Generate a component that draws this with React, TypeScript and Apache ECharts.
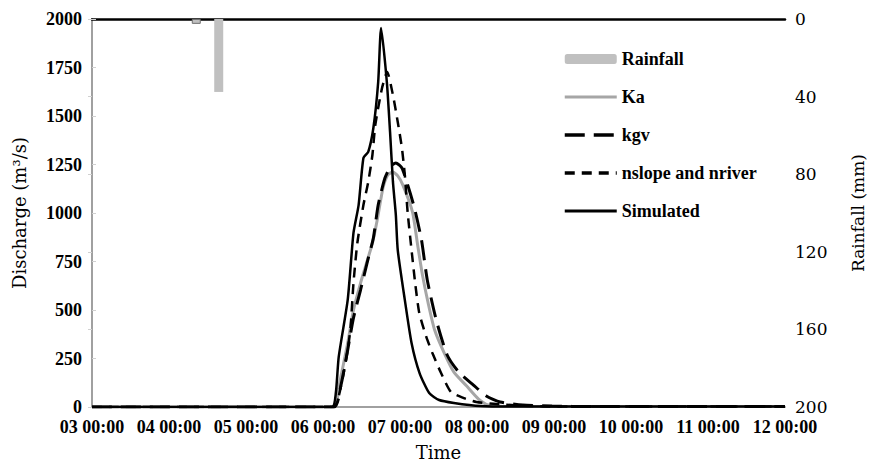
import React, { useEffect, useRef } from "react";
import * as echarts from "echarts";

// Tick labels of the time axis (value axis in hours from "03 00:00")
const dayLabels = ["03 00:00", "04 00:00", "05 00:00", "06 00:00", "07 00:00", "08 00:00", "09 00:00", "10 00:00", "11 00:00", "12 00:00"];

// Rainfall (mm), hours from 03 00:00
const rainHours = [32.5, 39.5];
const rainMm = [2.5, 37.6];

// Simulated discharge
const simHours = [0, 74.8, 76.0, 76.9, 79.7, 81.5, 83.1, 84.6, 86.1, 87.7, 89.2, 90.1, 91.9, 92.9, 93.8, 94.7, 95.3, 97.5, 99.6, 102.1, 105.1, 108.2, 112.8, 121.1, 131.2, 216];
const simQ = [0, 0, 72, 258, 552, 897, 1041, 1284, 1315, 1438, 1675, 1954, 1675, 1418, 1160, 990, 809, 552, 330, 175, 72, 36, 21, 5, 2, 2];

// Ka
const kaHours = [0, 75.4, 76.9, 79.7, 81.5, 83.7, 85.2, 87.4, 88.9, 90.7, 92.2, 93.8, 95.3, 96.9, 99.9, 101.5, 103.0, 104.9, 106.8, 109.8, 112.8, 116.8, 120.5, 123.5, 131, 216];
const kaQ = [0, 0, 103, 330, 500, 639, 722, 845, 964, 1129, 1196, 1211, 1191, 1144, 1005, 835, 680, 526, 397, 278, 180, 108, 41, 10, 2, 2];

// kgv
const kgvHours = [0, 75.4, 77.6, 79.7, 81.5, 83.7, 85.8, 87.7, 89.2, 91.3, 93.1, 94.7, 96.6, 98.4, 100.5, 102.7, 104.5, 107.3, 110.7, 114.3, 118.9, 122.9, 127.2, 134.3, 143.4, 155.7, 216];
const kgvQ = [0, 0, 113, 294, 459, 603, 747, 871, 1041, 1180, 1242, 1258, 1232, 1144, 1026, 861, 655, 448, 268, 180, 113, 57, 26, 10, 5, 2, 2];

// nslope and nriver
const nsHours = [0, 75.4, 76.6, 78.2, 79.7, 80.6, 81.5, 82.7, 84.6, 86.1, 87.4, 88.3, 90.4, 92.0, 93.8, 95.3, 96.6, 97.5, 98.4, 99.6, 100.8, 102.0, 104.2, 106.1, 108.8, 111.9, 115.9, 119.8, 126.0, 137.3, 149.6, 216];
const nsQ = [0, 0, 36, 155, 294, 412, 639, 845, 1041, 1160, 1299, 1454, 1644, 1727, 1608, 1469, 1335, 1196, 1000, 809, 629, 485, 361, 278, 175, 77, 46, 26, 15, 5, 2, 2];

const pairs = (xs: number[], ys: number[]) => xs.map((x, i) => [x, ys[i]]);

export default function App() {
  const ref = useRef<HTMLDivElement>(null);
  useEffect(() => {
    if (!ref.current) return;
    const chart = echarts.init(ref.current, null, { renderer: "svg" });
    const serif = "Liberation Serif";
    const century = "DejaVu Serif";
    const hideSym = { opacity: 0 };
    chart.setOption({
      animation: false,
      textStyle: { fontFamily: serif },
      grid: { left: 92, right: 77, top: 19, bottom: 59 },
      legend: {
        orient: "vertical",
        left: 558,
        top: 45,
        itemWidth: 52,
        itemHeight: 10,
        itemGap: 20,
        textStyle: { fontFamily: serif, fontWeight: "bold", fontSize: 18, color: "#000" },
        data: [
          { name: "Rainfall" },
          { name: "Ka", itemStyle: hideSym, lineStyle: { width: 3 } },
          { name: "kgv", itemStyle: hideSym, lineStyle: { width: 3.5 } },
          { name: "nslope and nriver", itemStyle: hideSym, lineStyle: { width: 3.5 } },
          { name: "Simulated", itemStyle: hideSym, lineStyle: { width: 3 } },
        ],
      },
      xAxis: [
        {
          type: "value",
          min: 0,
          max: 216,
          interval: 24,
          name: "Time",
          nameLocation: "middle",
          nameGap: 36,
          nameTextStyle: { fontFamily: century, fontSize: 18, color: "#000" },
          axisLine: { lineStyle: { color: "#a0a0a0", width: 2 } },
          axisTick: { show: false },
          splitLine: { show: false },
          axisLabel: {
            margin: 11,
            fontFamily: serif,
            fontWeight: "bold",
            fontSize: 18,
            color: "#000",
            formatter: (v: number) => dayLabels[Math.round(v / 24)] ?? "",
          },
        },
        {
          type: "value",
          position: "top",
          min: 0,
          max: 216,
          axisLine: { show: true, lineStyle: { color: "#000", width: 2.5 } },
          axisTick: { show: false },
          axisLabel: { show: false },
          splitLine: { show: false },
        },
      ],
      yAxis: [
        {
          type: "value",
          min: 0,
          max: 2000,
          interval: 250,
          name: "Discharge (m³/s)",
          nameLocation: "middle",
          nameGap: 64,
          nameTextStyle: { fontFamily: century, fontSize: 18, color: "#000" },
          axisLine: { show: true, lineStyle: { color: "#a0a0a0", width: 2 } },
          axisTick: { show: true, inside: true, length: 4, lineStyle: { color: "#d0d0d0" } },
          splitLine: { show: false },
          axisLabel: {
            margin: 10,
            fontFamily: serif,
            fontWeight: "bold",
            fontSize: 18,
            color: "#000",
            formatter: (v: number) => String(v),
          },
        },
        {
          type: "value",
          min: 0,
          max: 200,
          interval: 40,
          inverse: true,
          position: "right",
          name: "Rainfall (mm)",
          nameLocation: "middle",
          nameGap: 64,
          nameRotate: 90,
          nameTextStyle: { fontFamily: century, fontSize: 17, color: "#000" },
          axisLine: { show: true, lineStyle: { color: "#a0a0a0", width: 2 } },
          axisTick: { show: true, inside: true, length: 4, lineStyle: { color: "#d0d0d0" } },
          splitLine: { show: false },
          axisLabel: { margin: 10, fontFamily: century, fontSize: 17, color: "#000" },
        },
      ],
      series: [
        {
          name: "Rainfall",
          type: "bar",
          xAxisIndex: 0,
          yAxisIndex: 1,
          barWidth: 9,
          itemStyle: { color: "#c0c0c0" },
          data: pairs(rainHours, rainMm).map((d, i) =>
            i === 0 ? { value: d, itemStyle: { borderColor: "#707070", borderWidth: 1 } } : { value: d }
          ),
          z: 1,
        },
        {
          name: "Ka",
          type: "line",
          yAxisIndex: 0,
          symbol: "none",
          smooth: 0.2,
          lineStyle: { color: "#a6a6a6", width: 3 },
          itemStyle: { color: "#a6a6a6" },
          data: pairs(kaHours, kaQ),
          z: 3,
        },
        {
          name: "kgv",
          type: "line",
          yAxisIndex: 0,
          symbol: "none",
          smooth: 0.2,
          lineStyle: { color: "#000", width: 3, type: [20, 9] },
          itemStyle: { color: "#000" },
          data: pairs(kgvHours, kgvQ),
          z: 4,
        },
        {
          name: "nslope and nriver",
          type: "line",
          yAxisIndex: 0,
          symbol: "none",
          smooth: 0.2,
          lineStyle: { color: "#000", width: 2.5, type: [10, 7] },
          itemStyle: { color: "#000" },
          data: pairs(nsHours, nsQ),
          z: 5,
        },
        {
          name: "Simulated",
          type: "line",
          yAxisIndex: 0,
          symbol: "none",
          smooth: 0.2,
          lineStyle: { color: "#000", width: 2.5 },
          itemStyle: { color: "#000" },
          data: pairs(simHours, simQ),
          z: 6,
        },
      ],
    });
    return () => chart.dispose();
  }, []);
  return <div ref={ref} style={{ width: 874, height: 466, position: "absolute", left: 0, top: 0 }} />;
}
